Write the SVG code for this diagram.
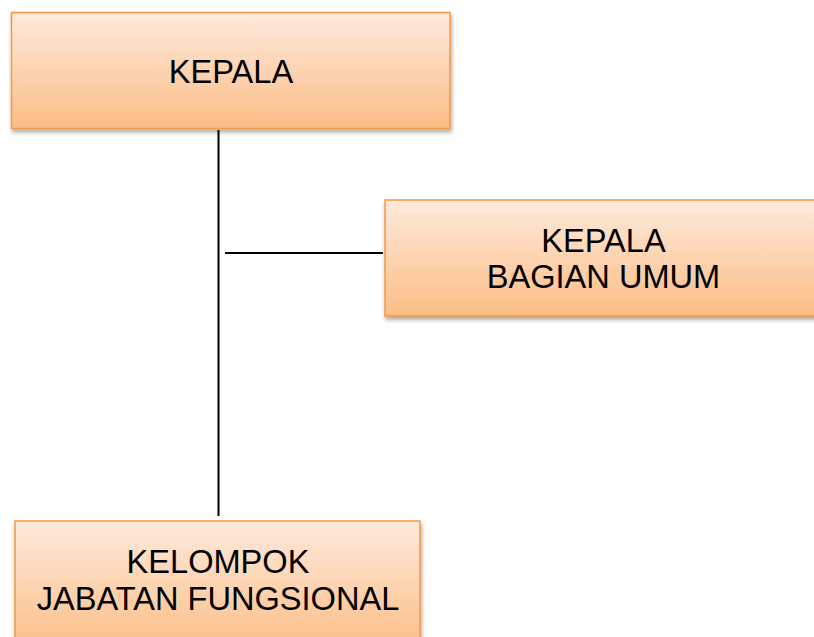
<svg xmlns="http://www.w3.org/2000/svg" width="814" height="637" viewBox="0 0 814 637">
<style>
.box{fill:url(#g);stroke:#f79646;stroke-width:1.5;filter:url(#sh)}
.t{font-family:"Liberation Sans",Arial,sans-serif;font-size:32.6px;fill:#000;text-anchor:middle}
.c{stroke:#000;stroke-width:2;fill:none}
</style>
<defs>
<linearGradient id="g" x1="0" y1="0" x2="0" y2="1">
<stop offset="0" stop-color="#feeadc"/>
<stop offset="1" stop-color="#fbbd86"/>
</linearGradient>
<filter id="sh" x="-5%" y="-5%" width="110%" height="120%">
<feDropShadow dx="1" dy="3" stdDeviation="2" flood-color="#000" flood-opacity="0.35"/>
</filter>
</defs>
<g id="connectors">
<line class="c" x1="218.5" y1="130" x2="218.5" y2="516"/>
<line class="c" x1="225" y1="253" x2="383" y2="253"/>
</g>
<g id="kepala">
<rect class="box" x="11.5" y="12.5" width="438.5" height="116"/>
<text class="t" x="231" y="83">KEPALA</text>
</g>
<g id="bagian-umum">
<rect class="box" x="385" y="200" width="435" height="116"/>
<text class="t" x="603.5" y="252">KEPALA</text>
<text class="t" x="603.5" y="288">BAGIAN UMUM</text>
</g>
<g id="kelompok">
<rect class="box" x="15" y="521" width="405" height="130"/>
<text class="t" x="218" y="573">KELOMPOK</text>
<text class="t" x="218" y="610">JABATAN FUNGSIONAL</text>
</g>
</svg>
